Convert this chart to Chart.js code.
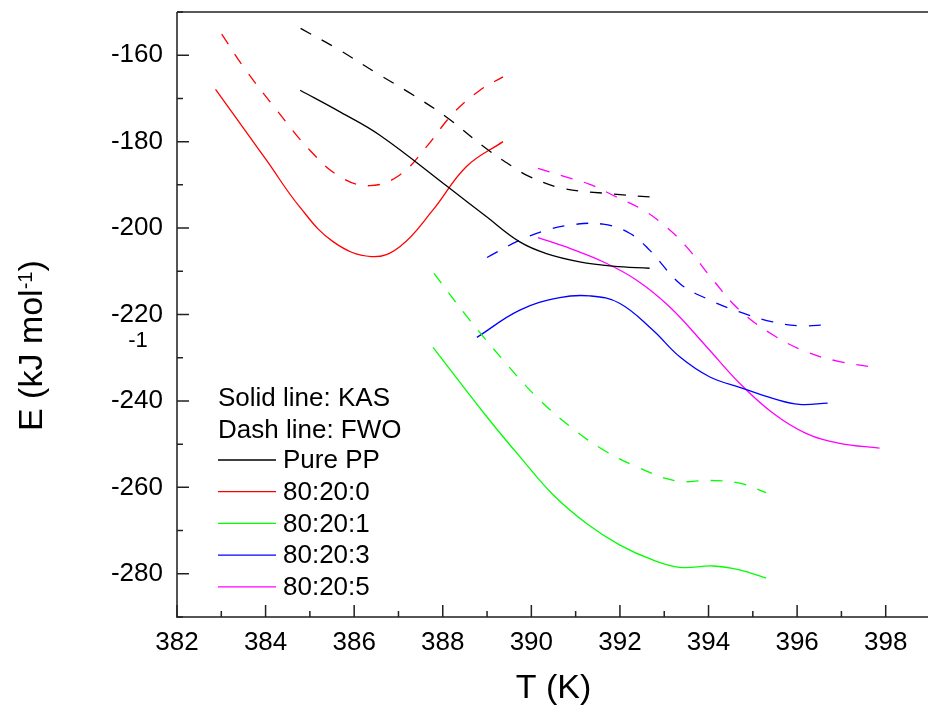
<!DOCTYPE html>
<html>
<head>
<meta charset="utf-8">
<script src="https://cdn.jsdelivr.net/npm/chart.js@4.4.0/dist/chart.umd.min.js"></script>
<style>
  html, body { margin: 0; padding: 0; overflow: hidden; background: #fff; }
</style>
</head>
<body>
<canvas id="grafico" width="940" height="709"></canvas>
<script>
// campioni e colori
const campioni = ['Pure PP', '80:20:0', '80:20:1', '80:20:3', '80:20:5'];
const colori = ['#000000', '#ff0000', '#00ff00', '#0000ff', '#ff00ff'];

// KAS (linea continua)
const kasPP_T = [384.78, 385.68, 386.58, 388.12, 388.99, 389.74, 390.34, 391.09, 391.84, 392.67];
const kasPP_E = [-168.1, -173.1, -178.5, -190.5, -197.4, -203.2, -205.9, -207.8, -208.8, -209.3];
const kas0_T = [382.87, 383.65, 384.02, 384.77, 385.53, 386.39, 387.03, 387.78, 388.53, 389.36];
const kas0_E = [-167.9, -179.0, -184.3, -195.1, -203.2, -206.6, -204.3, -195.8, -185.8, -180.0];
const kas1_T = [387.78, 388.99, 389.74, 390.49, 391.24, 391.99, 392.74, 393.35, 394.1, 394.7, 395.3];
const kas1_E = [-227.6, -243.6, -252.9, -261.7, -268.3, -273.3, -276.8, -278.5, -278.2, -279.1, -281.0];
const kas3_T = [388.77, 389.74, 390.64, 391.32, 391.99, 392.74, 393.35, 394.02, 394.77, 395.45, 396.05, 396.69];
const kas3_E = [-225.3, -219.0, -216.1, -215.7, -217.4, -223.6, -229.8, -234.4, -237.1, -239.4, -240.8, -240.5];
const kas5_T = [390.15, 390.87, 391.62, 392.37, 393.12, 393.95, 394.7, 395.45, 396.2, 396.96, 397.86];
const kas5_E = [-202.2, -204.7, -207.8, -212.0, -218.2, -227.4, -235.9, -242.8, -247.5, -249.8, -250.9];

// FWO (linea tratteggiata)
const fwoPP_T = [384.79, 385.6, 386.58, 387.33, 388.08, 388.98, 389.58, 389.96, 390.71, 391.84, 392.67];
const fwoPP_E = [-153.8, -158.4, -164.6, -169.2, -174.3, -181.6, -185.8, -188.1, -190.8, -192.1, -192.8];
const fwo0_T = [383.01, 383.5, 384.25, 385.0, 385.68, 386.35, 387.03, 387.63, 388.23, 388.84, 389.36];
const fwo0_E = [-155.1, -162.7, -172.7, -182.0, -188.1, -190.2, -187.7, -181.2, -173.5, -168.1, -165.0];
const fwo1_T = [387.8, 388.61, 389.36, 390.11, 390.87, 391.62, 392.37, 393.27, 394.02, 394.7, 395.3];
const fwo1_E = [-210.5, -221.3, -230.5, -239.0, -245.9, -251.3, -255.2, -258.5, -258.4, -259.0, -261.2];
const fwo3_T = [389.0, 389.74, 390.34, 390.94, 391.62, 392.22, 392.67, 393.35, 393.95, 394.7, 395.45, 396.05, 396.69];
const fwo3_E = [-206.8, -202.8, -200.5, -199.2, -199.1, -201.2, -205.1, -212.8, -216.3, -219.4, -221.7, -222.6, -222.4];
const fwo5_T = [390.15, 390.72, 391.32, 391.92, 392.52, 393.05, 393.5, 394.1, 394.7, 395.45, 396.2, 396.96, 397.86];
const fwo5_E = [-186.2, -188.0, -189.9, -192.8, -195.8, -199.8, -204.3, -212.0, -219.0, -224.7, -228.6, -230.9, -232.4];

// tacche degli assi
const tackX = [382, 384, 386, 388, 390, 392, 394, 396, 398];
const tackXMinori = [383, 385, 387, 389, 391, 393, 395, 397];
const tackY = [-280, -260, -240, -220, -200, -180, -160];
const tackYMinori = [-290, -270, -250, -230, -210, -190, -170, -150];

const serieKAS = [[kasPP_T, kasPP_E], [kas0_T, kas0_E], [kas1_T, kas1_E], [kas3_T, kas3_E], [kas5_T, kas5_E]];
const serieFWO = [[fwoPP_T, fwoPP_E], [fwo0_T, fwo0_E], [fwo1_T, fwo1_E], [fwo3_T, fwo3_E], [fwo5_T, fwo5_E]];

function punti(xs, ys) {
    return xs.map((x, i) => ({ x: x, y: ys[i] }));
}

const datasets = [];
campioni.forEach((nome, i) => {
    datasets.push({
        label: nome + ' KAS',
        data: punti(serieKAS[i][0], serieKAS[i][1]),
        borderColor: colori[i],
        borderWidth: 1.3,
        showLine: true, pointRadius: 0, tension: 0.4
    });
    datasets.push({
        label: nome + ' FWO',
        data: punti(serieFWO[i][0], serieFWO[i][1]),
        borderColor: colori[i],
        borderWidth: 1.3,
        borderDash: [12, 12],
        showLine: true, pointRadius: 0, tension: 0.4
    });
});

const FONT = "'Liberation Sans', Arial, sans-serif";

// assi con tacche interne, titoli e legenda disegnati a mano
const pluginAssi = {
    id: 'assiETesti',
    afterDatasetsDraw(chart) {
        const ctx = chart.ctx;
        const area = chart.chartArea;
        const sx = chart.scales.x;
        const sy = chart.scales.y;
        ctx.save();

        // linee degli assi
        ctx.strokeStyle = '#555';
        ctx.lineWidth = 2;
        ctx.beginPath();
        ctx.moveTo(area.left, area.top);
        ctx.lineTo(area.left, area.bottom);
        ctx.lineTo(area.right, area.bottom);
        ctx.stroke();
        ctx.strokeStyle = '#222';
        ctx.lineWidth = 1.5;
        ctx.beginPath();
        ctx.moveTo(area.left, area.top);
        ctx.lineTo(area.right, area.top);
        ctx.stroke();

        // tacche
        ctx.strokeStyle = '#222';
        ctx.lineWidth = 1.5;
        ctx.beginPath();
        tackX.forEach(v => { const p = sx.getPixelForValue(v); ctx.moveTo(p, area.bottom); ctx.lineTo(p, area.bottom - 12); });
        tackXMinori.forEach(v => { const p = sx.getPixelForValue(v); ctx.moveTo(p, area.bottom); ctx.lineTo(p, area.bottom - 6); });
        tackY.forEach(v => { const p = sy.getPixelForValue(v); ctx.moveTo(area.left, p); ctx.lineTo(area.left + 12, p); });
        tackYMinori.forEach(v => { const p = sy.getPixelForValue(v); ctx.moveTo(area.left, p); ctx.lineTo(area.left + 6, p); });
        ctx.stroke();

        // titolo asse X
        ctx.fillStyle = '#000';
        ctx.font = '34px ' + FONT;
        ctx.textAlign = 'center';
        ctx.textBaseline = 'middle';
        ctx.fillText('T (K)', (area.left + area.right) / 2, 689);

        // titolo asse Y con esponente
        ctx.save();
        ctx.translate(42, 431);
        ctx.rotate(-Math.PI / 2);
        ctx.textAlign = 'left';
        ctx.textBaseline = 'alphabetic';
        ctx.font = '34px ' + FONT;
        const base = 'E (kJ mol';
        ctx.fillText(base, 0, 0);
        let w = ctx.measureText(base).width;
        ctx.font = '20px ' + FONT;
        ctx.fillText('-1', w, -10);
        w += ctx.measureText('-1').width;
        ctx.font = '34px ' + FONT;
        ctx.fillText(')', w, 0);
        ctx.restore();

        // "-1" rimasto accanto alle etichette
        ctx.font = '22px ' + FONT;
        ctx.textAlign = 'center';
        ctx.fillText('-1', 138, 341);

        // legenda
        ctx.font = '26px ' + FONT;
        ctx.textAlign = 'left';
        ctx.textBaseline = 'middle';
        ctx.fillText('Solid line: KAS', 218, 399);
        ctx.fillText('Dash line: FWO', 218, 431);
        campioni.forEach((nome, i) => {
            const y = 460 + i * 31.7;
            ctx.strokeStyle = colori[i];
            ctx.lineWidth = 1.3;
            ctx.beginPath();
            ctx.moveTo(218, y);
            ctx.lineTo(276, y);
            ctx.stroke();
            ctx.fillText(nome, 283, y + 1);
        });

        ctx.restore();
    }
};

new Chart(document.getElementById('grafico'), {
    type: 'scatter',
    data: { datasets: datasets },
    options: {
        responsive: false,
        animation: false,
        layout: { padding: { top: 12, right: 10, left: 0, bottom: 0 } },
        plugins: { legend: { display: false }, tooltip: { enabled: false } },
        scales: {
            x: {
                type: 'linear', min: 382, max: 399,
                afterBuildTicks: s => { s.ticks = tackX.map(v => ({ value: v })); },
                afterFit: s => { s.height = 92; s.paddingLeft = 0; s.paddingRight = 0; },
                grid: { display: false, drawTicks: false },
                border: { display: false },
                ticks: { color: '#000', font: { size: 26, family: FONT }, padding: 10, maxRotation: 0 }
            },
            y: {
                type: 'linear', min: -290, max: -150,
                afterBuildTicks: s => { s.ticks = tackY.map(v => ({ value: v })); },
                afterFit: s => { s.width = 177; s.paddingTop = 0; s.paddingBottom = 0; },
                grid: { display: false, drawTicks: false },
                border: { display: false },
                ticks: { color: '#000', font: { size: 26, family: FONT }, padding: 14 }
            }
        }
    },
    plugins: [pluginAssi]
});
</script>
</body>
</html>
